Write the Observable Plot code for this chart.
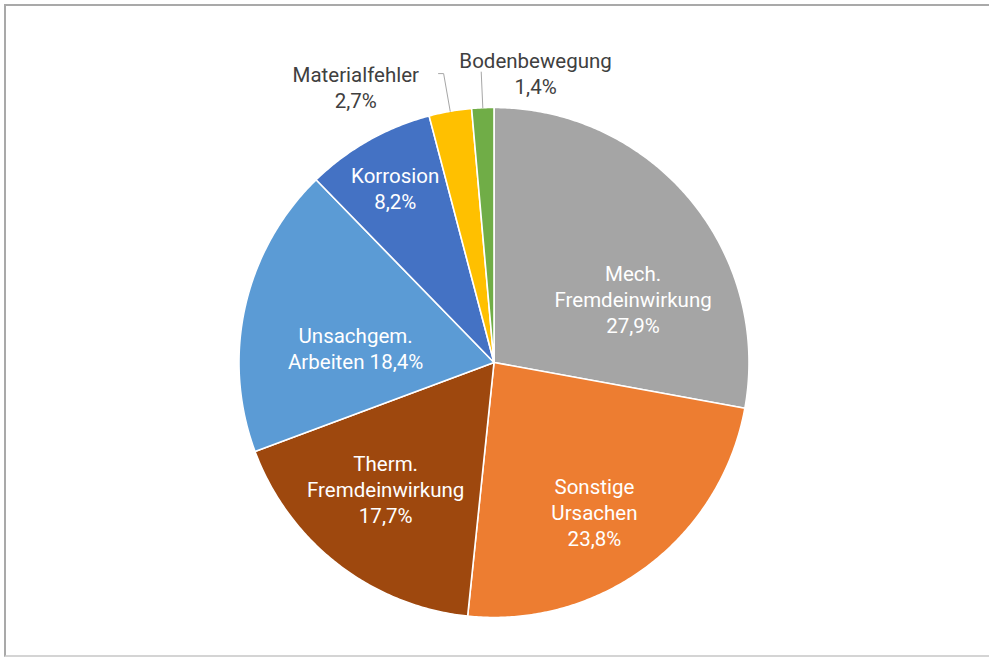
<!DOCTYPE html>
<html>
<head>
<meta charset="utf-8">
<script src="https://cdn.jsdelivr.net/npm/d3@7"></script>
<script src="https://cdn.jsdelivr.net/npm/@observablehq/plot@0.6"></script>
<style>
  html, body { margin: 0; padding: 0; background: #fff; }
  #wrap { position: relative; width: 989px; height: 657px; overflow: hidden; }
  #frame { position: absolute; left: 4px; top: 4px; width: 1000px; height: 649px;
           border-left: 2px solid #a9a9a9; border-top: 2px solid #a9a9a9; border-bottom: 2px solid #d4d4d4; pointer-events: none; }
  svg { display: block; }
</style>
</head>
<body>
<div id="wrap"><div id="frame"></div></div>
<script>
// Data
const categories = ["Mech. Fremdeinwirkung", "Sonstige Ursachen", "Therm. Fremdeinwirkung", "Unsachgem. Arbeiten", "Korrosion", "Materialfehler", "Bodenbewegung"];
const values = [27.9, 23.8, 17.7, 18.4, 8.2, 2.7, 1.4];
const labels = ["Mech.\nFremdeinwirkung\n27,9%", "Sonstige\nUrsachen\n23,8%", "Therm.\nFremdeinwirkung\n17,7%", "Unsachgem.\nArbeiten 18,4%", "Korrosion\n8,2%", "Materialfehler\n2,7%", "Bodenbewegung\n1,4%"];
const colors = ["#A5A5A5", "#ED7D31", "#9E480E", "#5B9BD5", "#4472C4", "#FFC000", "#70AD47"];
// label placement (style): angular shift from slice bisector (deg) and radius fraction
const labelShift = [15.2, 2.9, 2.9, -6.5, 0, -16.7, 10.7];
const labelRadius = [0.60, 0.705, 0.652, 0.546, 0.787, 1.211, 1.147];
const outside = [false, false, false, false, false, true, true];

const total = d3.sum(values);
const deg = Math.PI / 180;
let acc = 0;
const slices = values.map((v, i) => {
  const a0 = acc / total * 360;
  acc += v;
  const a1 = acc / total * 360;
  return {name: categories[i], a0, a1, mid: (a0 + a1) / 2, i};
});
const polar = (a, r) => ({x: r * Math.sin(a * deg), y: r * Math.cos(a * deg)});

// slice polygons
const pts = [];
for (const s of slices) {
  pts.push({name: s.name, ...polar(0, 0)});
  const n = Math.max(2, Math.ceil((s.a1 - s.a0) / 0.5));
  for (let k = 0; k <= n; k++) {
    const a = s.a0 + (s.a1 - s.a0) * k / n;
    pts.push({name: s.name, ...polar(a, 1)});
  }
}

// labels
const textData = slices.map(s => ({
  label: labels[s.i],
  out: outside[s.i],
  ...polar(s.mid + labelShift[s.i], labelRadius[s.i])
}));

// leader lines for outside labels
const leaders = [];
slices.filter(s => outside[s.i]).forEach(s => {
  const ext = s.i === 5 ? 1.15 : 1.14;
  const p0 = polar(s.mid, 1.0), p1 = polar(s.mid, ext);
  leaders.push({name: s.name, ...p0}, {name: s.name, ...p1});
  if (s.i === 5) leaders.push({name: s.name, x: p1.x - 0.02, y: p1.y});
});

const chart = Plot.plot({
  width: 989,
  height: 657,
  margin: 0,
  x: {domain: [-1, 1], range: [238.5, 748.5], axis: null},
  y: {domain: [-1, 1], range: [617, 107], axis: null},
  color: {domain: categories, range: colors},
  style: {fontFamily: "Roboto, 'Liberation Sans', sans-serif", background: "transparent"},
  marks: [
    Plot.line(pts, {x: "x", y: "y", z: "name", fill: "name", stroke: "white", strokeWidth: 1.6, curve: "linear-closed", strokeLinejoin: "round"}),
    Plot.line(leaders, {x: "x", y: "y", z: "name", stroke: "#A6A6A6", strokeWidth: 1}),
    Plot.text(textData.filter(d => !d.out), {x: "x", y: "y", text: "label", fill: "white", fontSize: 20.5, lineHeight: 1.26}),
    Plot.text(textData.filter(d => d.out), {x: "x", y: "y", text: "label", fill: "#404040", fontSize: 20.5, lineHeight: 1.26})
  ]
});
document.getElementById("wrap").prepend(chart);
</script>
</body>
</html>
